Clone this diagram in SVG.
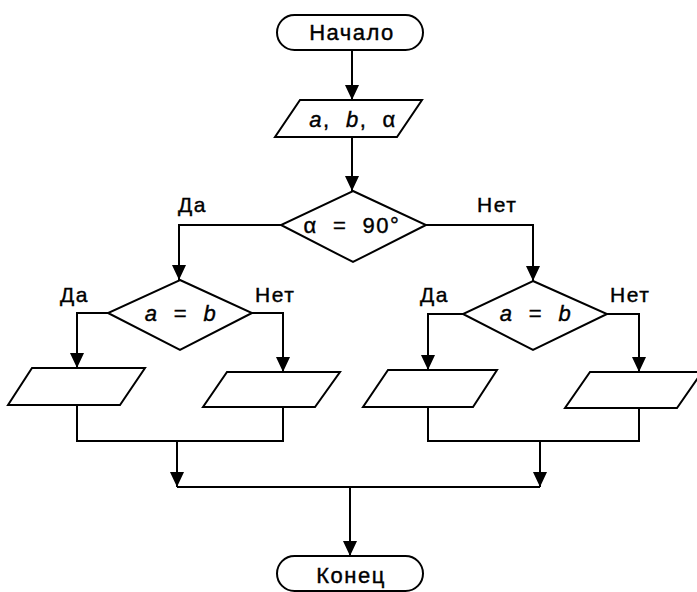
<svg xmlns="http://www.w3.org/2000/svg" width="697" height="592" viewBox="0 0 697 592">
<style>
.s{fill:#fff;stroke:#000;stroke-width:2;stroke-linejoin:miter}
.c{fill:none;stroke:#000;stroke-width:2}
.t{font-family:"Liberation Sans",Arial,sans-serif;font-size:22px;letter-spacing:1.5px;fill:#000;stroke:#000;stroke-width:0.4;text-anchor:middle}
.l{font-family:"Liberation Sans",Arial,sans-serif;font-size:21px;letter-spacing:1.5px;fill:#000;stroke:#000;stroke-width:0.4}
.i{font-style:italic}
</style>
<defs>
<marker id="ah" markerUnits="userSpaceOnUse" markerWidth="15" markerHeight="14" refX="15" refY="7" orient="auto">
<path d="M0,0 L15,7 L0,14 z" fill="#000"/>
</marker>
</defs>
<rect width="697" height="592" fill="#fff"/>
<g id="connectors">
<path class="c" d="M352,50 V100" marker-end="url(#ah)"/>
<path class="c" d="M352,137 V191" marker-end="url(#ah)"/>
<path class="c" d="M281,225 H179 V280" marker-end="url(#ah)"/>
<path class="c" d="M426,225 H533 V281" marker-end="url(#ah)"/>
<path class="c" d="M108,313 H77 V368" marker-end="url(#ah)"/>
<path class="c" d="M252,313 H283 V372" marker-end="url(#ah)"/>
<path class="c" d="M463,314 H428 V370" marker-end="url(#ah)"/>
<path class="c" d="M607,314 H639 V372" marker-end="url(#ah)"/>
<path class="c" d="M77,405 V441 H283 V407"/>
<path class="c" d="M428,407 V441 H639 V408"/>
<path class="c" d="M177,441 V487" marker-end="url(#ah)"/>
<path class="c" d="M540,441 V487" marker-end="url(#ah)"/>
<path class="c" d="M177,487 H540"/>
<path class="c" d="M350,487 V556" marker-end="url(#ah)"/>
<text class="l" x="178" y="212">Да</text>
<text class="l" x="477" y="212">Нет</text>
<text class="l" x="60" y="302">Да</text>
<text class="l" x="255" y="302">Нет</text>
<text class="l" x="420" y="302">Да</text>
<text class="l" x="610" y="302">Нет</text>
</g>
<g id="start">
<rect class="s" x="277" y="15" width="146" height="35" rx="17.5"/>
<text class="t" x="352" y="40">Начало</text>
</g>
<g id="input">
<polygon class="s" points="300,100 422,100 397,137 275,137"/>
<text class="t" x="353" y="127" xml:space="preserve"><tspan class="i">a</tspan>,  <tspan class="i">b</tspan>,  α</text>
</g>
<g id="cond1">
<polygon class="s" points="353,191 426,225 353,262 281,225"/>
<text class="t" x="352" y="233" xml:space="preserve">α  =  90°</text>
</g>
<g id="cond2">
<polygon class="s" points="180,280 252,313 180,350 108,313"/>
<text class="t" x="181" y="321" xml:space="preserve"><tspan class="i">a</tspan>  =  <tspan class="i">b</tspan></text>
</g>
<g id="cond3">
<polygon class="s" points="533,281 607,314 533,350 463,314"/>
<text class="t" x="536" y="321" xml:space="preserve"><tspan class="i">a</tspan>  =  <tspan class="i">b</tspan></text>
</g>
<g id="out1"><polygon class="s" points="32,368 145,368 120,405 8,405"/></g>
<g id="out2"><polygon class="s" points="227,372 340,372 315,407 203,407"/></g>
<g id="out3"><polygon class="s" points="388,370 497,370 473,407 363,407"/></g>
<g id="out4"><polygon class="s" points="590,372 702,372 677,408 565,408"/></g>
<g id="end">
<rect class="s" x="277" y="556" width="146" height="35" rx="17.5"/>
<text class="t" x="351" y="583">Конец</text>
</g>
</svg>
